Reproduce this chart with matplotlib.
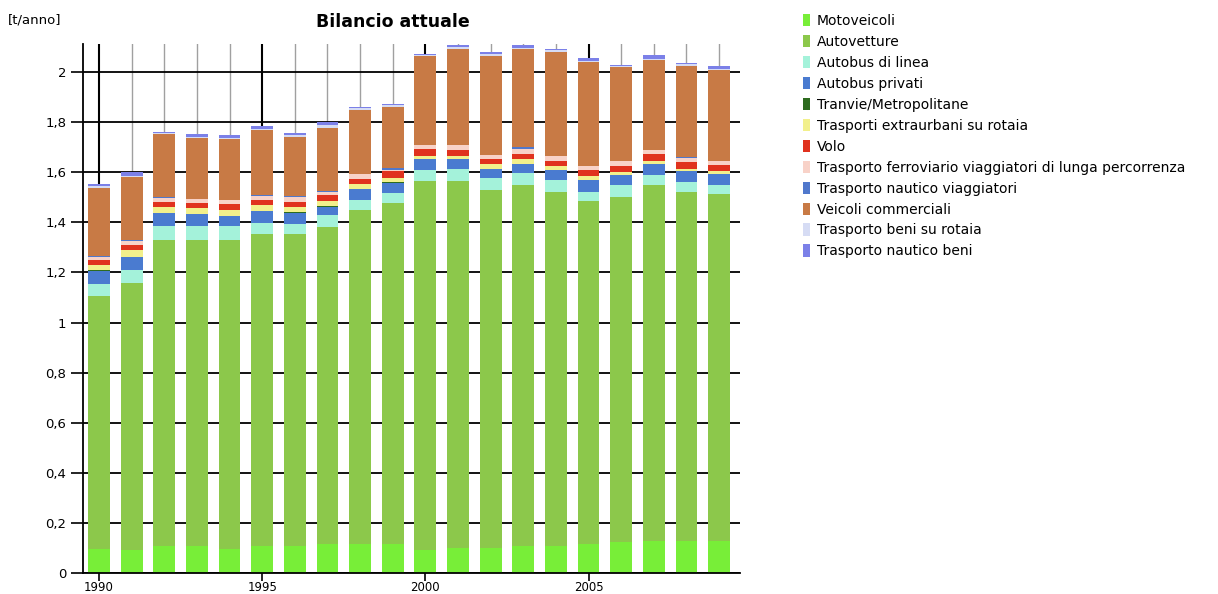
import matplotlib
matplotlib.use("Agg")
import matplotlib.pyplot as plt
from matplotlib.ticker import FixedLocator, FuncFormatter
import numpy as np

years = list(range(1990, 2010))

motoveicoli = [.095, .092, .108, .108, .094, .108, .108, .117, .117, .117,
               .092, .099, .101, .108, .108, .115, .122, .126, .126, .126]
autovetture = [1.010, 1.067, 1.223, 1.223, 1.237, 1.244, 1.247, 1.265, 1.333, 1.362,
               1.475, 1.468, 1.428, 1.441, 1.415, 1.370, 1.381, 1.423, 1.397, 1.386]
autobus_linea = [.047, .051, .055, .055, .055, .044, .040, .046, .040, .037,
                 .040, .045, .047, .047, .046, .038, .046, .040, .040, .037]
autobus_privati = [.055, .051, .051, .048, .038, .048, .044, .035, .044, .043,
                   .045, .040, .036, .036, .040, .046, .040, .044, .040, .043]
tranvie = [.001] * 20
extraurbani = [.020, .027, .025, .021, .026, .024, .020, .020, .020, .017,
               .013, .013, .021, .020, .016, .014, .010, .012, .009, .011]
volo = [.020, .020, .020, .020, .022, .021, .020, .027, .020, .027,
        .027, .024, .019, .021, .020, .026, .026, .027, .027, .026]
ferroviario = [.015, .018, .016, .016, .016, .016, .022, .011, .017, .004,
               .015, .018, .015, .017, .018, .014, .018, .015, .018, .014]
nautico_viagg = [.002, .002, .002, .002, .002, .002, .002, .002, .002, .009,
                 .002, .002, .002, .010, .002, .002, .002, .002, .002, .002]
veicoli_comm = [.271, .252, .250, .242, .242, .259, .235, .254, .254, .245,
                .354, .383, .396, .391, .415, .416, .374, .358, .364, .362]
beni_rotaia = [.008, .004, .005, .005, .005, .005, .009, .010, .008, .006,
               .005, .008, .008, .003, .007, .003, .006, .003, .007, .003]
nautico_beni = [.010, .016, .005, .012, .012, .013, .010, .013, .005, .006,
                .005, .007, .006, .013, .006, .012, .004, .017, .006, .013]

series_names = ["Motoveicoli", "Autovetture", "Autobus di linea", "Autobus privati",
                "Tranvie/Metropolitane", "Trasporti extraurbani su rotaia", "Volo",
                "Trasporto ferroviario viaggiatori di lunga percorrenza",
                "Trasporto nautico viaggiatori", "Veicoli commerciali",
                "Trasporto beni su rotaia", "Trasporto nautico beni"]
series_values = [motoveicoli, autovetture, autobus_linea, autobus_privati, tranvie,
                 extraurbani, volo, ferroviario, nautico_viagg, veicoli_comm,
                 beni_rotaia, nautico_beni]
colors = ["#78ee38", "#8cc84b", "#a4f2da", "#4a7bd0", "#2d6b1f", "#f2f08c",
          "#e0321e", "#f8d2c8", "#5078cc", "#c87a45", "#d6dcf4", "#7b80e8"]

fig = plt.figure(figsize=(12.18, 5.94), dpi=100)
ax = fig.add_axes([83 / 1218, 1 - 573 / 594, (740 - 83) / 1218, (573 - 44) / 594])

bottom = np.zeros(len(years))
handles = []
for name, vals, col in zip(series_names, series_values, colors):
    h = ax.bar(years, vals, width=0.67, bottom=bottom, color=col, label=name,
               zorder=3, linewidth=0)
    handles.append(h)
    bottom += np.array(vals)

ax.set_xlim(1989.51, 2009.64)
ax.set_ylim(0, 2.112)

yt = [0, 0.2, 0.4, 0.6, 0.8, 1.0, 1.2, 1.4, 1.6, 1.8, 2.0]
ax.yaxis.set_major_locator(FixedLocator(yt))
ax.yaxis.set_major_formatter(FuncFormatter(lambda v, p: ("%g" % round(v, 1)).replace(".", ",")))
ax.xaxis.set_major_locator(FixedLocator([1990, 1995, 2000, 2005]))
ax.xaxis.set_minor_locator(FixedLocator([y for y in years if y % 5 != 0]))
ax.set_xticklabels(["1990", "1995", "2000", "2005"])

ax.grid(axis="y", which="major", color="black", linewidth=1.3, zorder=0)
ax.grid(axis="x", which="major", color="black", linewidth=1.5, zorder=0)
ax.grid(axis="x", which="minor", color="#a0a0a0", linewidth=1.0, zorder=0)
ax.set_axisbelow(True)

for s in ["top", "right"]:
    ax.spines[s].set_visible(False)
for s in ["left", "bottom"]:
    ax.spines[s].set_linewidth(1.3)
    ax.spines[s].set_zorder(4)

ax.tick_params(axis="y", which="major", length=9, width=1.2, labelsize=9.5, pad=3)
ax.tick_params(axis="x", which="major", length=6, width=1.2, labelsize=8.5, pad=0)
ax.tick_params(axis="x", which="minor", length=0)

fig.text(393 / 1218, 1 - 22 / 594, "Bilancio attuale", ha="center", va="center",
         fontsize=12.5, fontweight="bold")
fig.text(8 / 1218, 1 - 20 / 594, "[t/anno]", ha="left", va="center", fontsize=9.5)

leg = fig.legend(handles=handles, loc="upper left",
                 bbox_to_anchor=(803 / 1218, 1 - 14 / 594),
                 frameon=False, fontsize=10, handlelength=0.5, handleheight=1.0,
                 handletextpad=0.5, labelspacing=0.5, borderaxespad=0, borderpad=0)

fig.savefig("out.png", dpi=100)
